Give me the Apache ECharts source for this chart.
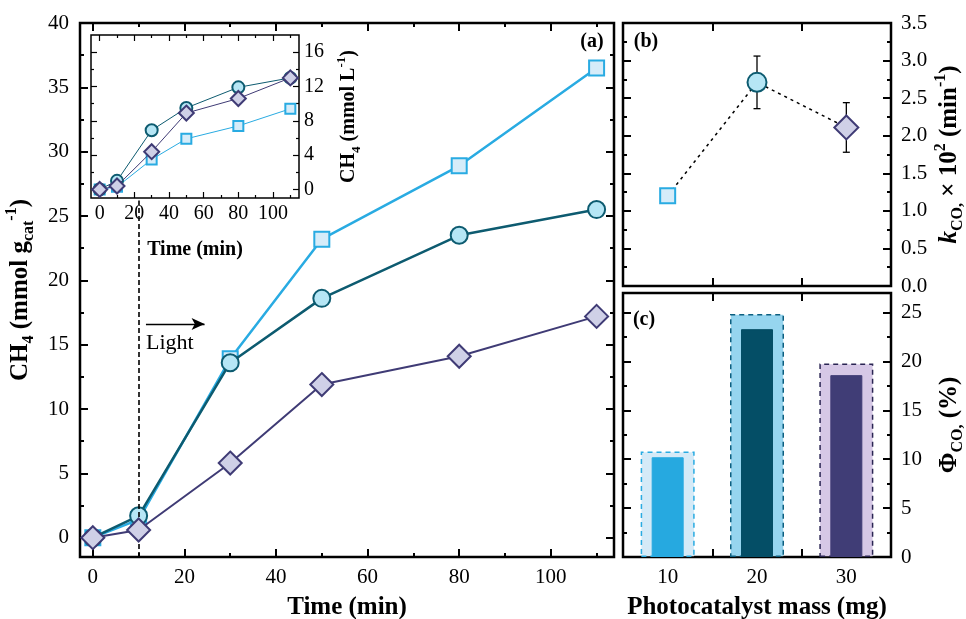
<!DOCTYPE html>
<html>
<head>
<meta charset="utf-8">
<script src="https://cdn.jsdelivr.net/npm/echarts@6/dist/echarts.min.js"></script>
<style>
  html, body { margin: 0; padding: 0; background: #fff; }
  #container { width: 966px; height: 619px; }
</style>
</head>
<body>
<div id="container"></div>
<script>
// (a) CH4 per gram of catalyst vs time
var timeMin = [0, 10, 30, 50, 80, 110];
var ch4Mass10 = [0, 1.4, 13.9, 23.2, 28.9, 36.5];
var ch4Mass20 = [0, 1.7, 13.6, 18.6, 23.5, 25.5];
var ch4Mass30 = [0, 0.6, 5.8, 11.9, 14.1, 17.2];
// inset: CH4 concentration vs time
var ch4Conc10 = [0, 0.3, 3.5, 5.9, 7.4, 9.4];
var ch4Conc20 = [0, 1.0, 6.9, 9.5, 11.9, 13.0];
var ch4Conc30 = [0, 0.4, 4.4, 8.9, 10.6, 13.0];
// (b) rate constant and (c) quantum efficiency vs mass
var massLabels = ['10', '20', '30'];
var kCO = [1.2, 2.71, 2.11];
var kErr = [0.09, 0.35, 0.33];
var phiOuter = [10.8, 24.85, 19.8];
var phiInner = [10.2, 23.3, 18.6];
// ticks
var mainXMajor = [0, 20, 40, 60, 80, 100], mainXMinor = [10, 30, 50, 70, 90, 110];
var mainYMajor = [0, 5, 10, 15, 20, 25, 30, 35, 40], mainYMinor = [2.5, 7.5, 12.5, 17.5, 22.5, 27.5, 32.5, 37.5];
var insetYMajor = [0, 4, 8, 12, 16], insetYMinor = [2, 6, 10, 14];
var kMajor = [0, 0.5, 1, 1.5, 2, 2.5, 3, 3.5], kMinor = [0.25, 0.75, 1.25, 1.75, 2.25, 2.75, 3.25];
var phiMajor = [0, 5, 10, 15, 20, 25], phiMinor = [2.5, 7.5, 12.5, 17.5, 22.5];

var FONT = 'Liberation Serif';
var C_SQ = '#29abe2', F_SQ = '#d6ecf9';
var C_CI = '#0d5b70', F_CI = '#b6e6f5';
var C_DI = '#3f3b75', F_DI = '#cfd0e7';

var dom = document.getElementById('container');
var myChart = echarts.init(dom, null, { renderer: 'canvas' });

var xAxes = [], yAxes = [];

// four overlaid value axes: major/minor ticks on both sides, labels on one
function tickAxes(list, kind, grid, min, max, majors, minors, labelSide, extra) {
  var sides = kind === 'x' ? ['bottom', 'top'] : ['left', 'right'];
  var tw = extra.tickWidth || 2;
  var start = list.length;
  [[sides[0], majors, 8], [sides[0], minors, 4], [sides[1], majors, 8], [sides[1], minors, 4]].forEach(function (s) {
    var ax = {
      type: 'value', gridIndex: grid, min: min, max: max, position: s[0],
      axisLine: { show: false, onZero: false },
      splitLine: { show: false },
      axisTick: { show: true, inside: true, length: s[2] * (extra.tickScale || 1), customValues: s[1], lineStyle: { color: '#000', width: tw } },
      axisLabel: { show: false }
    };
    if (s[0] === labelSide && s[1] === majors) {
      ax.axisLabel = {
        show: true, customValues: majors, color: '#000', fontFamily: FONT,
        fontSize: extra.fontSize, margin: extra.margin, formatter: extra.formatter
      };
      if (extra.name) {
        ax.name = extra.name;
        ax.nameLocation = 'middle';
        ax.nameGap = extra.nameGap;
        if (kind === 'y') ax.nameRotate = 90;
        ax.nameTextStyle = { rich: extra.rich };
      }
    }
    list.push(ax);
  });
  return start;
}

function richSet(size, subSize) {
  return {
    b: { fontFamily: FONT, fontWeight: 'bold', fontSize: size, lineHeight: size + 8, color: '#000' },
    i: { fontFamily: FONT, fontWeight: 'bold', fontStyle: 'italic', fontSize: size, lineHeight: size + 8, color: '#000' },
    s: { fontFamily: FONT, fontWeight: 'bold', fontSize: subSize, verticalAlign: 'bottom', color: '#000' },
    p: { fontFamily: FONT, fontWeight: 'bold', fontSize: subSize, verticalAlign: 'top', color: '#000' }
  };
}

// grid 0: main (a)
var mx = tickAxes(xAxes, 'x', 0, -2.8, 113.8, mainXMajor, mainXMinor, 'bottom',
  { fontSize: 21, margin: 10, name: '{b|Time (min)}', nameGap: 34, rich: richSet(25, 16) });
var my = tickAxes(yAxes, 'y', 0, -1.5, 40, mainYMajor, mainYMinor, 'left',
  { fontSize: 21, margin: 11, name: '{b|CH}{s|4}{b| (mmol g}{s|cat}{p|-1}{b|)}', nameGap: 42, rich: richSet(25, 16) });
// grid 3: inset
var ix = tickAxes(xAxes, 'x', 3, -5, 115, mainXMajor, mainXMinor, 'bottom',
  { fontSize: 20, margin: 6, tickWidth: 1.2, tickScale: 0.75, name: '{b|Time (min)}', nameGap: 38, rich: richSet(20, 13) });
var iy = tickAxes(yAxes, 'y', 3, -1, 18, insetYMajor, insetYMinor, 'right',
  { fontSize: 20, margin: 5, tickWidth: 1.2, tickScale: 0.75, name: '{b|CH}{s|4}{b| (mmol L}{p|-1}{b|)}', nameGap: 36, rich: richSet(20, 13) });
// grid 1: (b)
var by = tickAxes(yAxes, 'y', 1, 0, 3.5, kMajor, kMinor, 'right',
  { fontSize: 21, margin: 10, formatter: function (v) { return v.toFixed(1); },
    name: '{i|k}{s|CO,}{b| × 10}{p|2}{b| (min}{p|-1}{b|)}', nameGap: 42, rich: richSet(25, 16) });
// grid 2: (c)
var cy = tickAxes(yAxes, 'y', 2, 0, 27, phiMajor, phiMinor, 'right',
  { fontSize: 21, margin: 10, name: '{b|Φ}{s|CO,}{b| (%)}', nameGap: 42, rich: richSet(25, 16) });

function catAxis(grid, pos, labels, extra) {
  var ax = {
    type: 'category', gridIndex: grid, data: massLabels, position: pos,
    axisLine: { show: false, onZero: false },
    axisTick: { show: true, inside: true, length: 8, interval: 0, lineStyle: { color: '#000', width: 2 } },
    axisLabel: { show: labels, color: '#000', fontFamily: FONT, fontSize: 21, margin: 10 },
    splitLine: { show: false }
  };
  return Object.assign(ax, extra || {});
}
var bx = xAxes.length;
xAxes.push(catAxis(1, 'bottom', false));
xAxes.push(catAxis(1, 'top', false));
var cx = xAxes.length;
xAxes.push(catAxis(2, 'bottom', true, {
  name: '{b|Photocatalyst mass (mg)}', nameLocation: 'middle', nameGap: 34,
  nameTextStyle: { rich: richSet(25, 16) }
}));
xAxes.push(catAxis(2, 'top', false));
var cxInner = xAxes.length;
xAxes.push({ type: 'category', gridIndex: 2, data: massLabels, show: false });

function pairs(xs, ys) { return xs.map(function (x, i) { return [x, ys[i]]; }); }

function lineSeries(xi, yi, data, col, fill, sym, size, lw, bw, z) {
  return {
    type: 'line', xAxisIndex: xi, yAxisIndex: yi, data: data, z: z,
    symbol: sym, symbolSize: size, showSymbol: true,
    lineStyle: { color: col, width: lw },
    itemStyle: { color: fill, borderColor: col, borderWidth: bw }
  };
}

var sqMain = lineSeries(mx, my, pairs(timeMin, ch4Mass10), C_SQ, F_SQ, 'rect', 15, 2.5, 2, 3);
sqMain.markLine = {
  silent: true, symbol: 'none', label: { show: false },
  lineStyle: { color: '#000', width: 1.6, type: [5, 3] },
  data: [[{ coord: [10, -1.5] }, { coord: [10, 26.2] }]]
};
var ciMain = lineSeries(mx, my, pairs(timeMin, ch4Mass20), C_CI, F_CI, 'circle', 17, 2.5, 2, 4);
ciMain.markLine = {
  silent: true, symbol: ['none', 'arrow'], symbolSize: [9, 13], label: { show: false },
  lineStyle: { color: '#000', width: 1.4, type: 'solid' },
  data: [[{ coord: [11.6, 16.6] }, { coord: [24.4, 16.6] }]]
};
var diMain = lineSeries(mx, my, pairs(timeMin, ch4Mass30), C_DI, F_DI, 'diamond', [23, 23], 2, 2, 5);

var symB = [
  { symbol: 'rect', symbolSize: 15, itemStyle: { color: F_SQ, borderColor: C_SQ, borderWidth: 2 } },
  { symbol: 'circle', symbolSize: 19, itemStyle: { color: F_CI, borderColor: C_CI, borderWidth: 2 } },
  { symbol: 'diamond', symbolSize: [24, 24], itemStyle: { color: F_DI, borderColor: C_DI, borderWidth: 2 } }
];
var outerStyle = [
  { fill: '#d5eaf7', border: '#29abe2' },
  { fill: '#96d5ef', border: '#0c5f80' },
  { fill: '#d6c8e6', border: '#2a2553' }
];
var innerFill = ['#26a9e0', '#044e66', '#403d76'];

var option = {
  animation: false,
  backgroundColor: '#fff',
  textStyle: { fontFamily: FONT },
  grid: [
    { left: 80, top: 23, width: 534, height: 534, outerBoundsMode: 'none', show: true, borderColor: '#000', borderWidth: 2.5, backgroundColor: 'transparent' },
    { left: 623, top: 23, width: 268, height: 263, outerBoundsMode: 'none', show: true, borderColor: '#000', borderWidth: 2.5 },
    { left: 623, top: 293, width: 268, height: 264, outerBoundsMode: 'none', show: true, borderColor: '#000', borderWidth: 2.5 },
    { left: 91, top: 35, width: 208, height: 163, outerBoundsMode: 'none', show: true, borderColor: '#000', borderWidth: 1.5, backgroundColor: '#fff' }
  ],
  xAxis: xAxes,
  yAxis: yAxes,
  graphic: [
    { type: 'text', x: 592, y: 42, z: 10, style: { text: '(a)', font: 'bold 20px "Liberation Serif"', fill: '#000', align: 'center', verticalAlign: 'middle', textAlign: 'center', textVerticalAlign: 'middle' } },
    { type: 'text', x: 646, y: 42, z: 10, style: { text: '(b)', font: 'bold 20px "Liberation Serif"', fill: '#000', align: 'center', verticalAlign: 'middle', textAlign: 'center', textVerticalAlign: 'middle' } },
    { type: 'text', x: 644, y: 320, z: 10, style: { text: '(c)', font: 'bold 20px "Liberation Serif"', fill: '#000', align: 'center', verticalAlign: 'middle', textAlign: 'center', textVerticalAlign: 'middle' } },
    { type: 'text', x: 146, y: 343, z: 10, style: { text: 'Light', font: '22px "Liberation Serif"', fill: '#000', align: 'left', verticalAlign: 'middle', textAlign: 'left', textVerticalAlign: 'middle' } }
  ],
  series: [
    sqMain, ciMain, diMain,
    lineSeries(ix, iy, pairs(timeMin, ch4Conc10), C_SQ, F_SQ, 'rect', 10, 1, 2, 6),
    lineSeries(ix, iy, pairs(timeMin, ch4Conc20), C_CI, F_CI, 'circle', 12, 1, 2, 7),
    lineSeries(ix, iy, pairs(timeMin, ch4Conc30), C_DI, F_DI, 'diamond', [15, 15], 1, 2, 8),
    {
      type: 'custom', xAxisIndex: bx, yAxisIndex: by, z: 2,
      data: kCO.map(function (v, i) { return [i, v, kErr[i]]; }),
      renderItem: function (params, api) {
        var x = api.value(0), y = api.value(1), e = api.value(2);
        var t = api.coord([x, y + e]), b = api.coord([x, y - e]);
        var w = 3.5, st = { stroke: '#000', lineWidth: 1.3 };
        return {
          type: 'group', children: [
            { type: 'line', shape: { x1: t[0], y1: t[1], x2: b[0], y2: b[1] }, style: st },
            { type: 'line', shape: { x1: t[0] - w, y1: t[1], x2: t[0] + w, y2: t[1] }, style: st },
            { type: 'line', shape: { x1: b[0] - w, y1: b[1], x2: b[0] + w, y2: b[1] }, style: st }
          ]
        };
      }
    },
    {
      type: 'line', xAxisIndex: bx, yAxisIndex: by, z: 3,
      lineStyle: { color: '#000', width: 1.5, type: [3, 4] },
      data: kCO.map(function (v, i) { return Object.assign({ value: v }, symB[i]); })
    },
    {
      type: 'bar', xAxisIndex: cx, yAxisIndex: cy, barWidth: 54, z: 2,
      data: phiOuter.map(function (v, i) {
        return { value: v, itemStyle: { color: outerStyle[i].fill, borderColor: outerStyle[i].border, borderWidth: 1.5, borderType: [5, 4] } };
      })
    },
    {
      type: 'bar', xAxisIndex: cxInner, yAxisIndex: cy, barWidth: 32, z: 3,
      data: phiInner.map(function (v, i) {
        return { value: v, itemStyle: { color: innerFill[i], borderColor: innerFill[i], borderWidth: 1 } };
      })
    }
  ]
};

if (option && typeof option === 'object') {
  myChart.setOption(option);
}
window.addEventListener('resize', myChart.resize);
</script>
</body>
</html>
